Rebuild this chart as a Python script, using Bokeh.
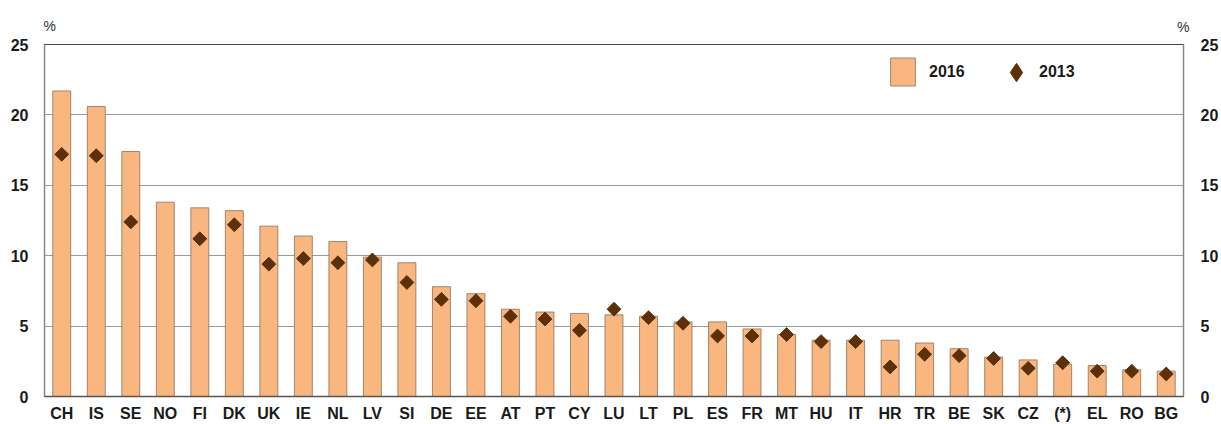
import math
from bokeh.plotting import figure
from bokeh.models import (FactorRange, Range1d, LinearAxis, FixedTicker,
                          Legend, LegendItem, ColumnDataSource, Title)
from bokeh.embed import file_html
from bokeh.resources import INLINE

categories = ["CH", "IS", "SE", "NO", "FI", "DK", "UK", "IE", "NL", "LV", "SI",
              "DE", "EE", "AT", "PT", "CY", "LU", "LT", "PL", "ES", "FR", "MT",
              "HU", "IT", "HR", "TR", "BE", "SK", "CZ", "(*)", "EL", "RO", "BG"]
values_2016 = [21.7, 20.6, 17.4, 13.8, 13.4, 13.2, 12.1, 11.4, 11.0, 9.9, 9.5,
               7.8, 7.3, 6.2, 6.0, 5.9, 5.8, 5.7, 5.3, 5.3, 4.8, 4.4,
               4.0, 4.0, 4.0, 3.8, 3.4, 2.8, 2.6, 2.3, 2.2, 1.9, 1.8]
values_2013 = [17.2, 17.1, 12.4, float("nan"), 11.2, 12.2, 9.4, 9.8, 9.5, 9.7, 8.1,
               6.9, 6.8, 5.7, 5.5, 4.7, 6.2, 5.6, 5.2, 4.3, 4.3, 4.4,
               3.9, 3.9, 2.1, 3.0, 2.9, 2.7, 2.0, 2.4, 1.8, 1.8, 1.6]
y_ticks = [0, 5, 10, 15, 20, 25]

FONT = "Liberation Sans"
BAR = "#F9B77F"
DIA = "#5C3109"

W, H = 1221, 424
ML, MR, MT, MB = 44, 36, 44, 27
FW, FH = W - ML - MR, H - MT - MB

src = ColumnDataSource(dict(cat=categories, v16=values_2016, v13=values_2013))

p = figure(width=W, height=H, x_range=FactorRange(*categories),
           y_range=Range1d(0, 25), output_backend="svg", toolbar_location=None,
           min_border_left=ML, min_border_right=MR, min_border_top=MT,
           min_border_bottom=MB)
p.x_range.range_padding = 0

pct_style = dict(text_font=FONT, text_font_style="normal", text_font_size="14px",
                 text_color="#333333")
p.title.text = "%"
p.title.align = "left"
p.title.offset = -1
p.title.standoff = -54
for k, v in pct_style.items():
    setattr(p.title, k, v)
p.add_layout(Title(text="%", align="right", offset=-6, standoff=20, **pct_style), "above")

bars = p.vbar(x="cat", top="v16", width=0.52, source=src, fill_color=BAR,
              line_color="#8a705e", line_width=0.8)
dias = p.scatter(x="cat", y="v13", source=src, marker="square", angle=math.pi / 4,
                 size=9.8, fill_color=DIA, line_color=DIA)
leg_dia = p.scatter(x=[categories[0]], y=[float("nan")], marker="diamond", size=22,
                    fill_color=DIA, line_color=DIA)

p.xgrid.grid_line_color = None
p.ygrid.ticker = FixedTicker(ticks=y_ticks)
p.ygrid.grid_line_color = "#9a9a9a"
p.ygrid.grid_line_width = 1.2
p.outline_line_color = "#444444"
p.outline_line_width = 1.2

def style_y(ax, standoff):
    ax.ticker = FixedTicker(ticks=y_ticks)
    ax.major_tick_line_color = None
    ax.minor_tick_line_color = None
    ax.major_tick_out = 0
    ax.major_tick_in = 0
    ax.minor_tick_out = 0
    ax.major_label_text_font = FONT
    ax.major_label_text_font_style = "bold"
    ax.major_label_text_font_size = "16px"
    ax.major_label_text_color = "#1a1a1a"
    ax.major_label_standoff = standoff
    ax.axis_line_color = "#888888"
    ax.axis_line_width = 1.2

style_y(p.yaxis[0], 16)
right = LinearAxis()
style_y(right, 17)
p.add_layout(right, "right")

xa = p.xaxis[0]
xa.major_tick_line_color = None
xa.major_tick_out = 0
xa.major_tick_in = 0
xa.major_label_text_font = FONT
xa.major_label_text_font_style = "bold"
xa.major_label_text_font_size = "16px"
xa.major_label_text_color = "#1a1a1a"
xa.major_label_standoff = 8
xa.axis_line_color = "#555555"
xa.axis_line_width = 1.5

leg_common = dict(orientation="horizontal", padding=0, margin=0,
                  border_line_color=None, background_fill_alpha=0,
                  label_text_font=FONT, label_text_font_style="bold",
                  label_text_font_size="16px", label_text_color="#1a1a1a")
legend_a = Legend(items=[LegendItem(label="2016", renderers=[bars])],
                  location=(843, FH - 11 - 35), glyph_width=31, glyph_height=35,
                  label_standoff=11, **leg_common)
legend_b = Legend(items=[LegendItem(label="2013", renderers=[leg_dia])],
                  location=(949, FH - 4 - 50), glyph_width=46, glyph_height=50,
                  label_standoff=0, **leg_common)
p.add_layout(legend_a)
p.add_layout(legend_b)

open("out.html", "w").write(file_html(p, INLINE))
